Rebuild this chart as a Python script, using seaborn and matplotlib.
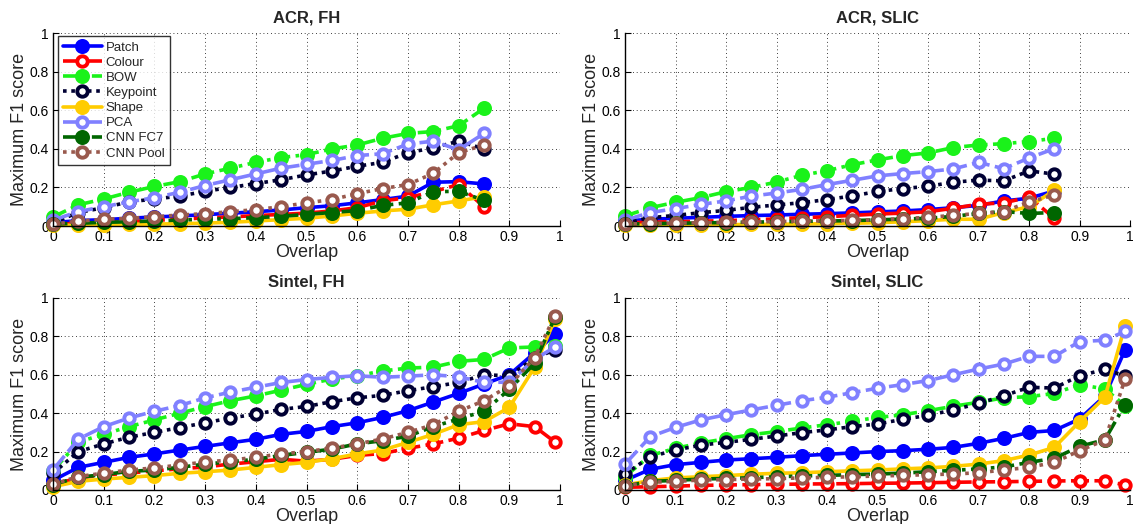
import numpy as np
import matplotlib
matplotlib.use("Agg")
import matplotlib.pyplot as plt
import seaborn as sns

sns.set_theme(style="white")
plt.rcParams['font.family'] = ['Liberation Sans', 'DejaVu Sans']

# ---------------- data ----------------
x_acr = [0, 0.05, 0.1, 0.15, 0.2, 0.25, 0.3, 0.35, 0.4, 0.45, 0.5, 0.55, 0.6, 0.65, 0.7, 0.75, 0.8, 0.85]
x_sintel = [0, 0.05, 0.1, 0.15, 0.2, 0.25, 0.3, 0.35, 0.4, 0.45, 0.5, 0.55, 0.6, 0.65, 0.7, 0.75, 0.8, 0.85, 0.9, 0.95, 0.99]

series_names = ["Patch", "Colour", "BOW", "Keypoint", "Shape", "PCA", "CNN FC7", "CNN Pool"]
panel_titles = ["ACR, FH", "ACR, SLIC", "Sintel, FH", "Sintel, SLIC"]

acr_fh = {
    "Patch":    [0.017, 0.028, 0.033, 0.04, 0.047, 0.052, 0.059, 0.066, 0.074, 0.083, 0.095, 0.105, 0.12, 0.137, 0.155, 0.227, 0.23, 0.218],
    "Colour":   [0.01, 0.012, 0.017, 0.022, 0.03, 0.035, 0.042, 0.047, 0.054, 0.06, 0.067, 0.078, 0.095, 0.13, 0.147, 0.178, 0.215, 0.10],
    "BOW":      [0.047, 0.11, 0.14, 0.175, 0.205, 0.23, 0.27, 0.30, 0.33, 0.355, 0.37, 0.40, 0.42, 0.455, 0.48, 0.49, 0.52, 0.61],
    "Keypoint": [0.017, 0.07, 0.095, 0.125, 0.14, 0.155, 0.18, 0.20, 0.22, 0.24, 0.265, 0.285, 0.31, 0.33, 0.38, 0.405, 0.44, 0.40],
    "Shape":    [0.003, 0.005, 0.007, 0.009, 0.01, 0.012, 0.015, 0.019, 0.026, 0.033, 0.04, 0.052, 0.066, 0.078, 0.087, 0.11, 0.13, 0.152],
    "PCA":      [0.03, 0.075, 0.10, 0.125, 0.147, 0.175, 0.21, 0.24, 0.27, 0.30, 0.32, 0.34, 0.365, 0.375, 0.425, 0.44, 0.395, 0.48],
    "CNN FC7":  [0.01, 0.014, 0.019, 0.022, 0.026, 0.031, 0.035, 0.038, 0.043, 0.05, 0.06, 0.07, 0.08, 0.107, 0.12, 0.178, 0.18, 0.133],
    "CNN Pool": [0.01, 0.025, 0.035, 0.04, 0.048, 0.057, 0.064, 0.074, 0.085, 0.10, 0.12, 0.137, 0.168, 0.194, 0.215, 0.273, 0.38, 0.42],
}

acr_slic = {
    "Patch":    [0.026, 0.035, 0.04, 0.045, 0.05, 0.054, 0.057, 0.061, 0.064, 0.068, 0.073, 0.078, 0.085, 0.095, 0.107, 0.13, 0.144, 0.182],
    "Colour":   [0.017, 0.02, 0.022, 0.025, 0.028, 0.032, 0.037, 0.043, 0.048, 0.055, 0.062, 0.067, 0.074, 0.092, 0.113, 0.12, 0.15, 0.04],
    "BOW":      [0.052, 0.095, 0.123, 0.147, 0.178, 0.20, 0.228, 0.263, 0.287, 0.318, 0.343, 0.365, 0.379, 0.407, 0.42, 0.427, 0.438, 0.455],
    "Keypoint": [0.017, 0.043, 0.055, 0.069, 0.081, 0.097, 0.109, 0.121, 0.137, 0.156, 0.179, 0.194, 0.206, 0.227, 0.238, 0.234, 0.286, 0.269],
    "Shape":    [0.003, 0.004, 0.005, 0.006, 0.007, 0.008, 0.009, 0.01, 0.012, 0.014, 0.017, 0.022, 0.028, 0.035, 0.035, 0.07, 0.10, 0.185],
    "PCA":      [0.03, 0.07, 0.09, 0.112, 0.13, 0.155, 0.171, 0.19, 0.215, 0.237, 0.26, 0.272, 0.282, 0.296, 0.33, 0.297, 0.353, 0.401],
    "CNN FC7":  [0.01, 0.012, 0.014, 0.016, 0.018, 0.02, 0.022, 0.024, 0.026, 0.028, 0.032, 0.036, 0.04, 0.05, 0.065, 0.075, 0.065, 0.07],
    "CNN Pool": [0.01, 0.013, 0.015, 0.017, 0.019, 0.021, 0.023, 0.025, 0.027, 0.029, 0.032, 0.038, 0.045, 0.055, 0.065, 0.075, 0.125, 0.16],
}

sintel_fh = {
    "Patch":    [0.05, 0.118, 0.144, 0.17, 0.188, 0.208, 0.227, 0.246, 0.264, 0.29, 0.305, 0.33, 0.35, 0.378, 0.413, 0.458, 0.503, 0.552, 0.60, 0.715, 0.81],
    "Colour":   [0.028, 0.063, 0.078, 0.088, 0.10, 0.11, 0.12, 0.135, 0.147, 0.16, 0.15, 0.16, 0.18, 0.19, 0.217, 0.24, 0.27, 0.31, 0.345, 0.33, 0.25],
    "BOW":      [0.10, 0.25, 0.29, 0.33, 0.365, 0.40, 0.434, 0.465, 0.49, 0.52, 0.55, 0.578, 0.595, 0.62, 0.635, 0.64, 0.67, 0.68, 0.74, 0.745, 0.75],
    "Keypoint": [0.087, 0.20, 0.24, 0.275, 0.30, 0.325, 0.35, 0.375, 0.395, 0.42, 0.435, 0.46, 0.48, 0.493, 0.517, 0.538, 0.56, 0.60, 0.595, 0.687, 0.73],
    "Shape":    [0.017, 0.045, 0.057, 0.066, 0.075, 0.087, 0.095, 0.104, 0.118, 0.132, 0.144, 0.163, 0.188, 0.208, 0.248, 0.29, 0.34, 0.356, 0.43, 0.64, 0.89],
    "PCA":      [0.105, 0.265, 0.33, 0.375, 0.41, 0.44, 0.48, 0.51, 0.535, 0.56, 0.575, 0.587, 0.595, 0.587, 0.593, 0.60, 0.59, 0.56, 0.562, 0.68, 0.745],
    "CNN FC7":  [0.028, 0.066, 0.08, 0.097, 0.104, 0.118, 0.135, 0.147, 0.16, 0.18, 0.196, 0.213, 0.24, 0.257, 0.28, 0.33, 0.37, 0.41, 0.524, 0.66, 0.90],
    "CNN Pool": [0.03, 0.07, 0.088, 0.104, 0.115, 0.13, 0.146, 0.156, 0.17, 0.188, 0.20, 0.218, 0.24, 0.266, 0.30, 0.34, 0.41, 0.465, 0.543, 0.69, 0.908],
}

sintel_slic = {
    "Patch":    [0.05, 0.108, 0.132, 0.144, 0.156, 0.163, 0.17, 0.179, 0.186, 0.193, 0.20, 0.205, 0.212, 0.222, 0.243, 0.269, 0.30, 0.31, 0.37, 0.49, 0.73],
    "Colour":   [0.014, 0.017, 0.02, 0.024, 0.026, 0.028, 0.029, 0.031, 0.032, 0.033, 0.035, 0.036, 0.038, 0.04, 0.042, 0.043, 0.045, 0.047, 0.048, 0.048, 0.026],
    "BOW":      [0.07, 0.18, 0.217, 0.245, 0.267, 0.288, 0.304, 0.323, 0.34, 0.358, 0.378, 0.392, 0.413, 0.436, 0.457, 0.48, 0.486, 0.503, 0.549, 0.526, 0.44],
    "Keypoint": [0.083, 0.173, 0.208, 0.234, 0.248, 0.264, 0.281, 0.299, 0.313, 0.33, 0.344, 0.368, 0.389, 0.417, 0.451, 0.491, 0.535, 0.531, 0.595, 0.628, 0.595],
    "Shape":    [0.026, 0.049, 0.063, 0.069, 0.075, 0.082, 0.087, 0.09, 0.095, 0.10, 0.104, 0.11, 0.115, 0.123, 0.135, 0.153, 0.182, 0.222, 0.356, 0.483, 0.856],
    "PCA":      [0.135, 0.278, 0.326, 0.365, 0.392, 0.417, 0.441, 0.465, 0.483, 0.507, 0.53, 0.549, 0.57, 0.60, 0.63, 0.656, 0.696, 0.696, 0.773, 0.78, 0.826],
    "CNN FC7":  [0.02, 0.045, 0.05, 0.057, 0.06, 0.064, 0.069, 0.073, 0.076, 0.08, 0.083, 0.088, 0.095, 0.102, 0.11, 0.12, 0.144, 0.165, 0.227, 0.262, 0.445],
    "CNN Pool": [0.022, 0.04, 0.045, 0.052, 0.054, 0.057, 0.059, 0.063, 0.066, 0.069, 0.073, 0.076, 0.08, 0.083, 0.09, 0.104, 0.118, 0.144, 0.205, 0.26, 0.578],
}

x_ticks = [0, 0.1, 0.2, 0.3, 0.4, 0.5, 0.6, 0.7, 0.8, 0.9, 1]
x_ticklabels = ["0", "0.1", "0.2", "0.3", "0.4", "0.5", "0.6", "0.7", "0.8", "0.9", "1"]
y_ticks = [0, 0.2, 0.4, 0.6, 0.8, 1]
y_ticklabels = ["0", "0.2", "0.4", "0.6", "0.8", "1"]

# ---------------- styles ----------------
styles = {
    "Patch":    dict(color=(0, 0, 1), ls="-", filled=True),
    "Colour":   dict(color=(1, 0, 0), ls=(0, (5, 1.5)), filled=False),
    "BOW":      dict(color=(0.1, 0.95, 0.1), ls=(0, (4, 1.5, 1, 1.5)), filled=True),
    "Keypoint": dict(color=(0, 0, 0.2), ls=(0, (1, 1.3)), filled=False),
    "Shape":    dict(color=(1, 0.8, 0), ls="-", filled=True),
    "PCA":      dict(color=(0.5, 0.5, 1), ls=(0, (5, 1.5)), filled=False),
    "CNN FC7":  dict(color=(0, 0.4, 0), ls=(0, (4, 1.5, 1, 1.5)), filled=True),
    "CNN Pool": dict(color=(0.6, 0.35, 0.3), ls=(0, (1, 1.3)), filled=False),
}

fig = plt.figure(figsize=(11.35, 5.24), dpi=100)
positions = [
    [0.0467, 0.5687, 0.4467, 0.368],
    [0.5507, 0.5687, 0.4450, 0.368],
    [0.0467, 0.0649, 0.4467, 0.3664],
    [0.5507, 0.0649, 0.4450, 0.3664],
]
panels = [(x_acr, acr_fh), (x_acr, acr_slic), (x_sintel, sintel_fh), (x_sintel, sintel_slic)]

for i, (pos, (xs, data), title) in enumerate(zip(positions, panels, panel_titles)):
    ax = fig.add_axes(pos)
    for name in series_names:
        st = styles[name]
        sns.lineplot(
            x=xs, y=data[name], ax=ax,
            color=st["color"], linestyle=st["ls"], linewidth=2.6,
            marker="o", markersize=8 if st["filled"] else 7.5,
            markerfacecolor=st["color"] if st["filled"] else "white",
            markeredgecolor=st["color"], markeredgewidth=2.8,
            label=name, legend=False, clip_on=False,
        )
    ax.set_xlim(0, 1)
    ax.set_ylim(0, 1)
    ax.set_xticks(x_ticks)
    ax.set_xticklabels(x_ticklabels)
    ax.set_yticks(y_ticks)
    ax.set_yticklabels(y_ticklabels)
    ax.grid(True, color="black", linestyle=(0, (1, 3.5)), linewidth=0.6)
    for s in ["top", "right"]:
        ax.spines[s].set_visible(False)
    for s in ["left", "bottom"]:
        ax.spines[s].set_color("black")
        ax.spines[s].set_linewidth(1.0)
    ax.tick_params(axis="both", direction="in", length=4, width=0.8,
                   labelsize=10, colors="black", pad=3,
                   bottom=True, left=True)
    ax.set_title(title, fontsize=12, fontweight="bold", pad=8)
    ax.set_xlabel("Overlap", fontsize=13, labelpad=0)
    ax.set_ylabel("Maximum F1 score", fontsize=13, labelpad=1)
    if i == 0:
        leg = ax.legend(loc="upper left", bbox_to_anchor=(0.01, 0.985),
                        fontsize=9.5, frameon=True, fancybox=False,
                        handlelength=2.9, handletextpad=0.3,
                        labelspacing=0.22, borderpad=0.4, borderaxespad=0)
        leg.get_frame().set_edgecolor("black")
        leg.get_frame().set_linewidth(1.0)

fig.savefig("out.png", dpi=100)
